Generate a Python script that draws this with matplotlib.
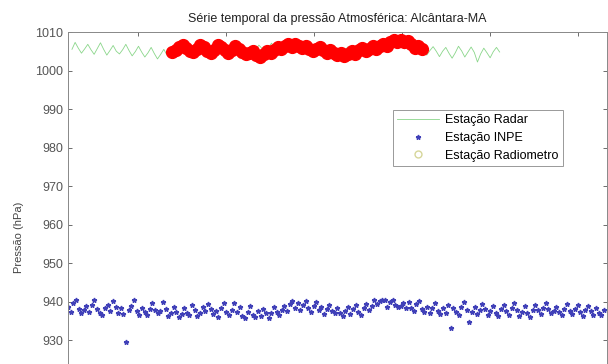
import numpy as np
import matplotlib
matplotlib.use('Agg')
import matplotlib.pyplot as plt
from matplotlib.lines import Line2D

plt.rcParams['font.family'] = ['Liberation Sans', 'DejaVu Sans']

# Estação Radar (3.6 h step)
radar_t0, radar_dt = -75.5, 3.6
radar = [1005.5, 1007.3, 1005.8, 1004.5, 1005.6, 1006.8, 1005.4, 1004.2, 1005.7, 1007.2,
         1005.5, 1004.0, 1005.2, 1006.5, 1005.0, 1004.3, 1005.4, 1006.8, 1005.2, 1003.8,
         1004.9, 1006.3, 1004.8, 1003.5, 1004.6, 1006.0, 1004.4, 1003.0, 1004.2, 1005.5,
         1004.0,
         1005.8, 1004.4, 1003.9, 1005.1, 1006.5, 1005.2, 1004.0, 1005.3, 1006.7, 1005.4,
         1004.2, 1005.0, 1006.4, 1005.1, 1003.8, 1004.9, 1006.2, 1004.8, 1003.6, 1004.4,
         1005.6, 1004.3, 1003.2, 1004.1, 1005.4, 1004.9, 1004.0, 1005.3, 1006.6, 1005.7,
         1004.9, 1006.0, 1007.1, 1006.1, 1005.2, 1006.2, 1007.0, 1005.9, 1004.8, 1005.6,
         1006.5, 1005.3, 1004.2, 1005.0, 1005.9, 1004.7, 1003.6, 1004.4, 1005.3, 1004.1,
         1003.3, 1004.5, 1005.6, 1004.6, 1003.9, 1005.0, 1006.1, 1005.2, 1004.5, 1005.7,
         1006.8, 1005.9, 1005.1, 1006.3, 1007.4, 1006.6, 1005.8, 1006.9, 1008.0, 1007.1,
         1006.2, 1007.0, 1007.8, 1006.7, 1005.6, 1006.4, 1007.2, 1005.9, 1004.8, 1005.6,
         1006.3,
         1004.0, 1005.2, 1006.2, 1005.0, 1003.6, 1005.0, 1006.0, 1004.5, 1003.2, 1004.6,
         1006.3, 1005.1, 1003.5, 1004.8, 1006.1, 1004.7, 1002.2, 1004.3, 1005.8, 1004.6,
         1003.3, 1004.9, 1006.0, 1004.8]

# Estação INPE (3 h step)
inpe_t0, inpe_dt = -80.0, 3.0
inpe = [938.5, 937.2, 939.6, 940.3, 938.1, 936.9, 937.8, 938.9,
        937.4, 939.2, 940.4, 938.0, 937.1, 936.6, 938.3, 939.0,
        937.5, 940.1, 938.6, 937.0, 938.2, 936.8, 929.4, 937.9,
        938.8, 940.5, 937.6, 936.5, 938.4, 937.2, 936.4, 938.0,
        939.6, 937.8, 936.9, 937.5, 940.0, 938.1, 936.2, 937.0,
        938.6, 937.3, 935.9, 936.8, 938.4, 937.1, 936.6, 939.0,
        937.7, 936.3,
        937.0, 938.7, 937.5, 939.4, 938.0, 936.8, 937.6, 936.1,
        938.3, 939.7, 937.4, 936.5, 937.9, 939.6, 937.2, 938.6,
        936.3, 935.8, 937.4, 938.8, 936.6, 935.9, 937.5, 936.2,
        938.1, 937.0, 935.7, 936.9, 938.5, 937.3, 936.4, 937.8,
        938.9, 937.6,
        939.3, 940.2, 938.4, 939.6, 937.9, 939.0, 940.1, 938.2,
        937.4, 938.9, 939.8, 937.7, 938.6, 936.8, 938.1, 939.2,
        937.6, 936.9, 938.3, 937.0, 936.2,
        937.5, 938.6, 936.7, 938.0, 939.1, 937.3, 936.5, 938.2,
        939.4, 937.8, 938.9, 940.3, 939.3, 940.2, 940.4, 940.3,
        938.7, 940.0, 940.5, 939.2, 938.6, 938.9, 939.7, 938.2,
        939.9, 938.4, 937.6, 939.3,
        940.2, 938.1, 937.3, 938.7, 936.9, 938.2, 939.5, 937.6,
        936.8, 938.4, 937.1, 939.0, 933.2, 938.3, 937.4, 936.5,
        938.6, 939.8, 937.9, 934.6, 937.2, 938.5, 936.7, 937.9,
        939.3, 938.0, 936.4, 937.6, 938.8, 937.1, 936.2, 938.0,
        939.1, 937.5, 936.6, 938.3, 939.5, 937.8, 936.3, 937.4,
        938.9, 937.0, 936.1, 937.7, 939.2, 937.9, 936.8, 938.4,
        939.6, 938.1, 936.9, 937.5, 938.7, 937.2, 936.4, 938.1,
        939.3, 937.6, 936.7, 938.0, 939.1, 937.4, 936.3, 937.8,
        938.9, 937.5, 936.6, 938.2, 937.1, 936.5, 937.9]

# Estação Radiometro (4 h step)
radio_t0, radio_dt = 38.2, 4.0
radio = [1004.8, 1005.3, 1006.0, 1006.5, 1005.8, 1005.0, 1004.7, 1005.5, 1006.6, 1006.0,
         1005.1, 1004.6, 1005.3, 1006.5, 1006.0, 1005.2, 1004.5, 1005.2, 1006.3, 1005.6,
         1004.8, 1004.2, 1004.6, 1005.0, 1004.1, 1003.6, 1004.2, 1005.0, 1004.5, 1005.3,
         1006.0, 1005.5, 1006.3, 1006.8, 1006.2, 1006.9, 1006.4, 1005.8, 1006.4, 1005.7,
         1005.0, 1005.6, 1006.0, 1005.2, 1004.6, 1005.3, 1004.5, 1004.0, 1004.6, 1003.8,
         1004.3, 1005.0, 1004.4, 1005.2, 1005.8, 1005.0, 1005.6, 1006.3, 1005.7, 1006.4,
         1006.9, 1006.3, 1007.3, 1007.9, 1007.4, 1008.0, 1007.3, 1007.6, 1006.9, 1005.8,
         1006.4, 1005.5]

labels = ['Estação Radar', 'Estação INPE', 'Estação Radiometro']
yticks = [930, 940, 950, 960, 970, 980, 990, 1000, 1010]
xticks = [0, 100, 200, 300, 400, 500]

t_radar = radar_t0 + radar_dt * np.arange(len(radar))
t_inpe = inpe_t0 + inpe_dt * np.arange(len(inpe))
t_radio = radio_t0 + radio_dt * np.arange(len(radio))

fig = plt.figure(figsize=(6.08, 3.64), dpi=100)
# axes run past the bottom edge of the picture (the original is cropped there)
ax = fig.add_axes([68/608, 1 - 378.5/364, 539/608, 346.5/364])

ax.plot(t_radar, radar, color='#8ad68a', lw=0.6)
ax.plot(t_inpe, inpe, ls='none', marker='*', ms=3.5, color='#4040b8')
ax.plot(t_radio, radio, ls='none', marker='o', ms=8.5, color='red', mec='red')

ax.set_xlim(-80, 532.5)
ax.set_ylim(920, 1010)
ax.set_xticks(xticks)
ax.set_yticks(yticks)
ax.tick_params(direction='in', length=3, labelsize=9, colors='#555555',
               top=True, right=True, width=0.6, labelbottom=False)
for s in ax.spines.values():
    s.set_color('#888888')
    s.set_linewidth(0.7)

ax.set_title('Série temporal da pressão Atmosférica: Alcântara-MA', fontsize=9,
             color='#222222', pad=7)
ax.set_ylabel('Pressão (hPa)', fontsize=8, color='#444444')
ax.yaxis.set_label_coords((24 - 68) / 539, (378.5 - 237) / 346.5)

handles = [Line2D([], [], color='#8ad68a', lw=0.6),
           Line2D([], [], ls='none', marker='*', ms=3.5, color='#4040b8'),
           Line2D([], [], ls='none', marker='o', ms=5, mfc='none', mec='#d6d69a')]
leg = ax.legend(handles, labels, loc='upper left',
                bbox_to_anchor=(393/608, 1 - 110/364), bbox_transform=fig.transFigure,
                fontsize=9, handlelength=3.3, handletextpad=0.5, borderpad=0.35,
                labelspacing=0.45, fancybox=False, framealpha=1, borderaxespad=0)
leg.get_frame().set_edgecolor('#999999')
leg.get_frame().set_linewidth(0.7)

fig.savefig('out.png', dpi=100)
